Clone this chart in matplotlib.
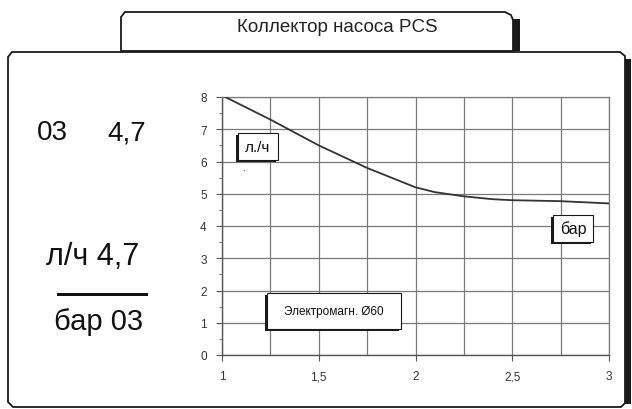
import numpy as np
import matplotlib.pyplot as plt
from matplotlib.patches import Polygon, Rectangle
from matplotlib.ticker import MultipleLocator

plt.rcParams['font.family'] = ['Liberation Sans Narrow', 'Liberation Sans', 'DejaVu Sans']

# data (pressure in bar vs flow in l/h)
pressure = [1.0, 1.25, 1.5, 1.75, 2.0, 2.1, 2.25, 2.4, 2.5, 2.75, 3.0]
flow = [8.05, 7.3, 6.5, 5.8, 5.2, 5.05, 4.92, 4.83, 4.8, 4.77, 4.7]
x_ticks = [1, 1.5, 2, 2.5, 3]
x_labels = ['1', '1,5', '2', '2,5', '3']
y_ticks = [0, 1, 2, 3, 4, 5, 6, 7, 8]

title = 'Коллектор насоса PCS'
W, H = 632, 410

def px(x, y):
    return (x / W, 1 - y / H)

def poly(pts, **kw):
    fig.add_artist(Polygon([px(*p) for p in pts], closed=True,
                           transform=fig.transFigure, **kw))

def rect(x0, y0, x1, y1, **kw):
    fig.add_artist(Rectangle(px(x0, y1), (x1 - x0) / W, (y1 - y0) / H,
                             transform=fig.transFigure, **kw))

fig = plt.figure(figsize=(6.32, 4.10), dpi=100)

# title tab
rect(513, 20, 520, 52, facecolor='#1a1a1a', edgecolor='none', zorder=0)
poly([(121, 52), (121, 18), (125, 13), (505, 13), (511, 16), (513, 21), (513, 52)],
     facecolor='white', edgecolor='#1a1a1a', lw=1.3, zorder=0)
fig.text(*px(337, 28), title, ha='center', va='center', fontsize=13.5, color='#222222')

# main panel
rect(625, 60, 631, 405, facecolor='#1a1a1a', edgecolor='none', zorder=0)
poly([(12, 53), (620, 53), (625, 57), (625, 404), (621, 408), (13, 408), (8, 403), (8, 58)],
     facecolor='white', edgecolor='#1a1a1a', lw=1.3, zorder=0)

# left texts
big = dict(ha='center', va='baseline', color='#111111', fontfamily=['Liberation Sans', 'DejaVu Sans'])
fig.text(*px(52, 140), '03', fontsize=20, **big)
fig.text(*px(127, 140), '4,7', fontsize=20, **big)
fig.text(*px(93, 265), 'л/ч 4,7', fontsize=22, **big)
rect(57, 293.5, 148, 296.5, facecolor='#111111', edgecolor='none')
fig.text(*px(99, 330), 'бар 03', fontsize=21, **big)

# chart
ax = fig.add_axes([222 / W, 54 / H, 387 / W, 258 / H])
ax.set_zorder(2)
ax.patch.set_alpha(0)
ax.plot(pressure, flow, color='#333333', lw=1.3, zorder=3)
ax.set_xlim(1, 3)
ax.set_ylim(0, 8)
ax.set_xticks(x_ticks)
ax.set_xticklabels(x_labels)
ax.set_yticks(y_ticks)
ax.xaxis.set_minor_locator(MultipleLocator(0.25))
ax.yaxis.set_minor_locator(MultipleLocator(0.5))
ax.grid(True, which='major', color='#7a7a7a', lw=0.9)
ax.grid(True, which='minor', axis='x', color='#7a7a7a', lw=0.9)
for s in ['top', 'right']:
    ax.spines[s].set_color('#7a7a7a')
    ax.spines[s].set_linewidth(0.9)
for s in ['left', 'bottom']:
    ax.spines[s].set_color('#555555')
    ax.spines[s].set_linewidth(1.0)
ax.tick_params(which='major', direction='out', length=4, color='#555555',
               labelsize=8.5, labelcolor='#333333')
ax.tick_params(which='minor', direction='out', length=2, color='#555555')
ax.tick_params(axis='x', which='minor', length=0)
ax.tick_params(axis='x', pad=7)
ax.tick_params(axis='y', pad=7)
for lab in ax.get_xticklabels() + ax.get_yticklabels():
    lab.set_fontfamily(['Liberation Sans', 'DejaVu Sans'])

# annotation boxes
def box(x0, y0, x1, y1, text, size, shadow_bottom=True):
    rect(x0 - 2, y0 + 2, x1 - 2, y1 + (2 if shadow_bottom else 0),
         facecolor='#1a1a1a', edgecolor='none', zorder=5)
    rect(x0, y0, x1, y1, facecolor='white', edgecolor='#1a1a1a', lw=0.8, zorder=6)
    fig.text(*px((x0 + x1) / 2, (y0 + y1) / 2), text, ha='center', va='center',
             fontsize=size, color='#111111', zorder=7,
             fontfamily=['Liberation Sans', 'DejaVu Sans'])

box(238, 134, 278, 161, 'л./ч', 11)
box(553, 216, 593, 243, 'бар', 11.5)
box(267, 294, 401, 330, 'Электромагн. Ø60', 8.5)
fig.text(*px(243, 171), '.', fontsize=7, ha='center', va='baseline', color='#222222')

fig.savefig('out.png', dpi=100)
